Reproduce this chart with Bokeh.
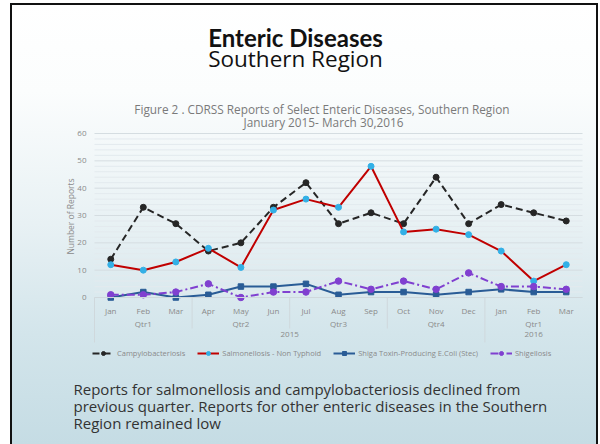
from bokeh.plotting import figure
from bokeh.models import (Range1d, FixedTicker, LinearAxis,
                          Legend, LegendItem, Label, ColumnDataSource)
from bokeh.embed import file_html
from bokeh.resources import INLINE

# ---- data ----
months = ["Jan", "Feb", "Mar", "Apr", "May", "Jun", "Jul", "Aug", "Sep", "Oct", "Nov", "Dec", "Jan", "Feb", "Mar"]
quarters = ["Qtr1"] * 3 + ["Qtr2"] * 3 + ["Qtr3"] * 3 + ["Qtr4"] * 3 + ["Qtr1"] * 3
years = ["2015"] * 12 + ["2016"] * 3
campylobacteriosis = [14, 33, 27, 17, 20, 33, 42, 27, 31, 27, 44, 27, 34, 31, 28]
salmonellosis = [12, 10, 13, 18, 11, 32, 36, 33, 48, 24, 25, 23, 17, 6, 12]
stec = [0, 2, 0, 1, 4, 4, 5, 1, 2, 2, 1, 2, 3, 2, 2]
shigellosis = [1, 1, 2, 5, 0, 2, 2, 6, 3, 6, 3, 9, 4, 4, 3]
series_names = ["Campylobacteriosis", "Salmonellosis - Non Typhoid",
                "Shiga Toxin-Producing E.Coli (Stec)", "Shigellosis"]
y_ticks = [0, 10, 20, 30, 40, 50, 60]

n = len(months)
idx = list(range(n))   # category positions
src = ColumnDataSource(data=dict(x=idx, campy=campylobacteriosis, salm=salmonellosis,
                                 stec=stec, shig=shigellosis))

FONT = "Open Sans"
GRAY = "#8a8a8a"
W, H = 600, 444
# geometry of the plotting area on the page (pixels)
Y0_PAGE, YTOP_PAGE = 297, 133
X0_PAGE, X1_PAGE = 94, 582
PX_PER_UNIT = (Y0_PAGE - YTOP_PAGE) / y_ticks[-1]
PX_PER_CAT = (X1_PAGE - X0_PAGE) / n
x_lo = -0.5 - X0_PAGE / PX_PER_CAT
x_hi = n - 0.5 + (W - X1_PAGE) / PX_PER_CAT
y_lo = -(H - Y0_PAGE) / PX_PER_UNIT
y_hi = Y0_PAGE / PX_PER_UNIT

p = figure(width=W, height=H, x_range=Range1d(x_lo, x_hi), y_range=Range1d(y_lo, y_hi),
           output_backend="svg", toolbar_location=None,
           min_border_left=0, min_border_right=0, min_border_top=0, min_border_bottom=0)
p.background_fill_alpha = 0
p.border_fill_alpha = 0
p.outline_line_alpha = 0
p.styles = {
    "background": ("linear-gradient(#111111, #111111) 10px 3px / 2px 441px no-repeat, "
                   "linear-gradient(#111111, #111111) 596px 3px / 2px 441px no-repeat, "
                   "linear-gradient(#111111, #111111) 10px 3px / 588px 2px no-repeat, "
                   "linear-gradient(to bottom, #ffffff 0%, #fbfdfd 20%, #e8f1f4 50%, #d3e5eb 75%, #c5dce4 100%) "
                   "10px 3px / 588px 441px no-repeat, #ffffff"),
}
p.xgrid.visible = False
p.ygrid.visible = False

# gridlines over the plotting area only
minor = [v for v in range(0, y_ticks[-1], 2) if v % 10]
p.segment(x0=[-0.5] * len(minor), y0=minor, x1=[n - 0.5] * len(minor), y1=minor,
          line_color="#e3eaee", line_width=1)
p.segment(x0=[-0.5] * len(y_ticks), y0=y_ticks, x1=[n - 0.5] * len(y_ticks), y1=y_ticks,
          line_color="#d5dde1", line_width=1)

# y axis, fixed at the left edge of the plotting area
ya = p.yaxis[0]
ya.fixed_location = -0.5
ya.ticker = FixedTicker(ticks=y_ticks, minor_ticks=[])
ya.axis_line_alpha = 0
ya.major_tick_in = 0
ya.major_tick_out = 0
ya.minor_tick_in = 0
ya.minor_tick_out = 0
ya.major_label_text_font = FONT
ya.major_label_text_font_size = "8px"
ya.major_label_text_color = GRAY
ya.major_label_standoff = 8


# x axes (months / quarters / years), fixed at y = 0
def runs(labels, key):
    out = []
    start = 0
    for i in range(1, n + 1):
        if i == n or key(i) != key(start):
            out.append((start, i - 1, labels[start]))
            start = i
    return out


q_runs = runs(quarters, lambda i: (years[i], quarters[i]))
yr_runs = runs(years, lambda i: years[i])


def x_axis(ticks, labels, standoff, line=False):
    ax = LinearAxis(fixed_location=0, ticker=FixedTicker(ticks=ticks, minor_ticks=[]),
                    major_label_overrides=dict(zip(ticks, labels)),
                    major_label_text_font=FONT, major_label_text_font_size="8px",
                    major_label_text_color=GRAY, major_label_standoff=standoff,
                    major_tick_in=0, major_tick_out=0, minor_tick_in=0, minor_tick_out=0,
                    axis_line_color="#cfd8dc", axis_line_alpha=1 if line else 0,
                    bounds=(-0.5, n - 0.5))
    p.add_layout(ax, "below")


p.below.remove(p.xaxis[0])
x_axis(idx, months, 7, line=True)
x_axis([(a + b) / 2 for a, b, _ in q_runs], [l for _, _, l in q_runs], 20)
x_axis([(a + b) / 2 for a, b, _ in yr_runs], [l for _, _, l in yr_runs], 34)

# group separators below the axis
q_bounds = [a for a, _, _ in q_runs]
yr_bounds = [a for a, _, _ in yr_runs]
q_depth = -(328 - Y0_PAGE) / PX_PER_UNIT
yr_depth = -(342 - Y0_PAGE) / PX_PER_UNIT
p.segment(x0=[b - 0.5 for b in q_bounds], y0=[0] * len(q_bounds),
          x1=[b - 0.5 for b in q_bounds], y1=[yr_depth if b in yr_bounds else q_depth for b in q_bounds],
          line_color="#cfd8dc", line_width=1)

# series
r_c = p.line("x", "campy", source=src, line_color="#262626", line_width=2, line_dash="7 4")
s_c = p.scatter("x", "campy", source=src, marker="circle", size=6, color="#262626")
r_s = p.line("x", "salm", source=src, line_color="#c00000", line_width=2)
s_s = p.scatter("x", "salm", source=src, marker="circle", size=6, color="#33b0e6")
r_t = p.line("x", "stec", source=src, line_color="#2a5c96", line_width=2)
s_t = p.scatter("x", "stec", source=src, marker="square", size=5.5, color="#2a5c96")
r_h = p.line("x", "shig", source=src, line_color="#8040d0", line_width=2, line_dash="8 3 2 3")
s_h = p.scatter("x", "shig", source=src, marker="circle", size=6.5, color="#8040d0")

legend = Legend(items=[
    LegendItem(label=series_names[0], renderers=[r_c, s_c]),
    LegendItem(label=series_names[1], renderers=[r_s, s_s]),
    LegendItem(label=series_names[2], renderers=[r_t, s_t]),
    LegendItem(label=series_names[3], renderers=[r_h, s_h]),
], orientation="horizontal", location=(92, H - 358),
    label_text_font=FONT, label_text_font_size="7.5px", label_text_color=GRAY,
    glyph_width=22, glyph_height=10, label_standoff=3, spacing=12,
    padding=0, margin=0, background_fill_alpha=0, border_line_alpha=0)
p.add_layout(legend, "center")


def lab(text, px, py, size, color, align="left", style="normal", font=FONT, angle=0.0, baseline="alphabetic"):
    p.add_layout(Label(x=(px - X0_PAGE) / PX_PER_CAT - 0.5, y=(Y0_PAGE - py) / PX_PER_UNIT,
                       text=text, text_font=font, text_font_size=size, text_color=color,
                       text_align=align, text_baseline=baseline, text_font_style=style, angle=angle))


lab("Number of Reports", 70, 216, "8.5px", GRAY, align="center", angle=1.5708, baseline="middle")
lab("Enteric Diseases", 295, 37, "24px", "#111111", align="center", style="bold", font="Lato")
lab("Southern Region", 295, 58, "22.5px", "#111111", align="center")
lab("Figure 2 . CDRSS Reports of  Select Enteric Diseases, Southern Region", 323, 108, "11.8px", "#7a7a7a", align="center")
lab("January 2015- March 30,2016", 323, 121, "11.8px", "#7a7a7a", align="center")
body = ["Reports for salmonellosis  and campylobacteriosis declined from",
        "previous quarter. Reports for other enteric diseases in the Southern",
        "Region remained low"]
for i, t in enumerate(body):
    lab(t, 73, 388 + i * 17, "15px", "#333333")

open("out.html", "w").write(file_html(p, INLINE))
